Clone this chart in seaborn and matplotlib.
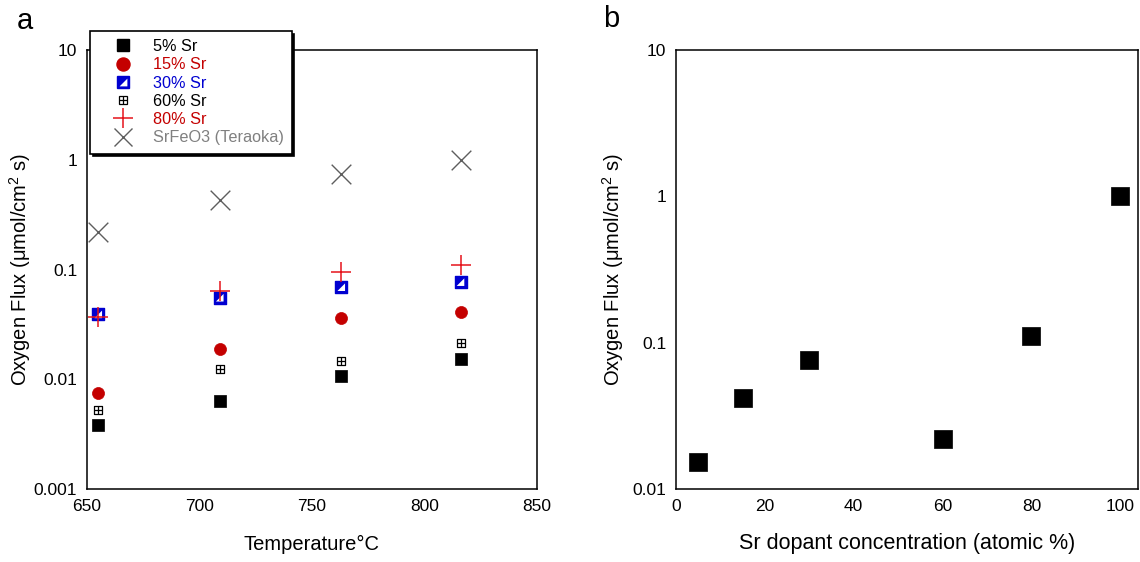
import matplotlib
matplotlib.use("Agg")
import matplotlib.pyplot as plt
from matplotlib.lines import Line2D
from matplotlib.ticker import FixedLocator, FuncFormatter, NullLocator
import seaborn as sns
import pandas as pd

# panel a: flux vs temperature
temps = [655, 709, 763, 816]
flux_5 = [0.0038, 0.0064, 0.0106, 0.0154]
flux_15 = [0.0075, 0.019, 0.0364, 0.0412]
flux_30 = [0.039, 0.0553, 0.069, 0.0767]
flux_60 = [0.0053, 0.0123, 0.0146, 0.0216]
flux_80 = [0.037, 0.0635, 0.095, 0.111]
flux_teraoka = [0.218, 0.433, 0.746, 1.0]

# panel b: flux vs Sr content
sr_conc = [5, 15, 30, 60, 80, 100]
flux_b = [0.0153, 0.0416, 0.076, 0.0218, 0.111, 1.0]

temp_ticks = [650, 700, 750, 800, 850]
conc_ticks = [0, 20, 40, 60, 80, 100]

sns.set_theme(style="white")
plt.rcParams['font.family'] = ['Liberation Sans', 'DejaVu Sans']
plt.rcParams['mathtext.fontset'] = 'custom'
plt.rcParams['mathtext.rm'] = 'Liberation Sans'
plt.rcParams['text.color'] = 'black'
plt.rcParams['axes.labelcolor'] = 'black'

RED = '#c40000'
RED2 = '#e5131b'
BLUE = '#0000d0'
GRAY = '#5e5e5e'

tri = [(1, -1), (1, 1), (-1, -1)]  # lower-right triangle for the half-filled square

W, H = 1140, 562
fig = plt.figure(figsize=(W / 100, H / 100), dpi=100)
ax1 = fig.add_axes([87 / W, 73 / H, 450 / W, 439 / H])
ax2 = fig.add_axes([676 / W, 73 / H, 462 / W, 439 / H])

df = pd.DataFrame({'T': temps, 'f5': flux_5, 'f15': flux_15, 'f30': flux_30,
                   'f60': flux_60, 'f80': flux_80, 'ft': flux_teraoka})

sns.scatterplot(data=df, x='T', y='ft', marker='x', s=200, color=GRAY, linewidth=1.0, ax=ax1, zorder=3)
sns.scatterplot(data=df, x='T', y='f5', marker='s', s=75, color='black', edgecolor='black', linewidth=0.5, ax=ax1, zorder=3)
sns.scatterplot(data=df, x='T', y='f15', marker='o', s=75, color=RED, edgecolor=RED, linewidth=0.5, ax=ax1, zorder=3)
sns.scatterplot(data=df, x='T', y='f30', marker='s', s=72, color=BLUE, edgecolor=BLUE, linewidth=1.0, ax=ax1, zorder=3)
sns.scatterplot(data=df, x='T', y='f30', marker=tri, s=30, color='white', edgecolor='none', linewidth=0, ax=ax1, zorder=4)
sns.scatterplot(data=df, x='T', y='f60', marker='s', s=38, color='white', edgecolor='black', linewidth=0.9, ax=ax1, zorder=3)
sns.scatterplot(data=df, x='T', y='f60', marker='+', s=38, color='black', linewidth=0.9, ax=ax1, zorder=4)
sns.scatterplot(data=df, x='T', y='f80', marker='+', s=200, color=RED2, linewidth=1.1, ax=ax1, zorder=5)

sns.scatterplot(x=sr_conc, y=flux_b, marker='s', s=150, color='black', edgecolor='black', linewidth=0.5, ax=ax2, zorder=3)


def fmt(v, pos):
    return '%g' % v


for ax in (ax1, ax2):
    ax.set_yscale('log')
    ax.yaxis.set_major_formatter(FuncFormatter(fmt))
    ax.yaxis.set_minor_locator(NullLocator())
    ax.tick_params(axis='both', length=0, labelsize=12.5, colors='black', pad=7)
    for sp in ax.spines.values():
        sp.set_visible(True)
        sp.set_color('black')
        sp.set_linewidth(1.1)
    ax.set_ylabel('Oxygen Flux (μmol/cm$^2$ s)', fontsize=14.5, color='black')
    ax.grid(False)

ax1.set_xlim(650, 850)
ax1.set_ylim(0.001, 10)
ax1.xaxis.set_major_locator(FixedLocator(temp_ticks))
ax1.yaxis.set_major_locator(FixedLocator([0.001, 0.01, 0.1, 1, 10]))
ax1.set_xlabel('Temperature°C', fontsize=14.5, color='black')
ax1.yaxis.set_label_coords(-0.12, 0.5)
ax1.xaxis.set_label_coords(0.5, -0.105)

ax2.set_xlim(0, 104)
ax2.set_ylim(0.01, 10)
ax2.xaxis.set_major_locator(FixedLocator(conc_ticks))
ax2.yaxis.set_major_locator(FixedLocator([0.01, 0.1, 1, 10]))
ax2.set_xlabel('Sr dopant concentration (atomic %)', fontsize=15.5, color='black')
ax2.yaxis.set_label_coords(-0.108, 0.5)
ax2.xaxis.set_label_coords(0.5, -0.1)

fig.text(17 / W, 1 - 21 / H, 'a', fontsize=21, va='center', ha='left', color='black')
fig.text(603 / W, 1 - 19 / H, 'b', fontsize=21, va='center', ha='left', color='black')

handles = [
    Line2D([], [], ls='none', marker='s', ms=9.2, mfc='black', mec='black'),
    Line2D([], [], ls='none', marker='o', ms=9.4, mfc=RED, mec=RED),
    (Line2D([], [], ls='none', marker='s', ms=8.6, mfc=BLUE, mec=BLUE, mew=1.0),
     Line2D([], [], ls='none', marker=tri, ms=5.6, mfc='white', mec='none')),
    (Line2D([], [], ls='none', marker='s', ms=6, mfc='white', mec='black', mew=0.9),
     Line2D([], [], ls='none', marker='+', ms=6, mec='black', mew=0.9)),
    Line2D([], [], ls='none', marker='+', ms=14, mec=RED2, mew=1.1),
    Line2D([], [], ls='none', marker='x', ms=13, mec=GRAY, mew=1.0),
]
labels = ['5% Sr', '15% Sr', '30% Sr', '60% Sr', '80% Sr', 'SrFeO3 (Teraoka)']
leg = ax1.legend(handles, labels, loc='upper left', bbox_to_anchor=(90 / W, 1 - 31 / H),
                 bbox_transform=fig.transFigure, fontsize=11.7, frameon=True, fancybox=False,
                 shadow={'color': 'black', 'alpha': 1}, edgecolor='black', framealpha=1,
                 labelspacing=0.2, handlelength=3.05, handletextpad=0.3, borderpad=0.5,
                 borderaxespad=0)
leg.get_frame().set_linewidth(1.2)
for t, c in zip(leg.get_texts(), ['black', RED, BLUE, 'black', RED, '#808080']):
    t.set_color(c)
leg.set_zorder(10)

fig.savefig('out.png', dpi=100, facecolor='white')
